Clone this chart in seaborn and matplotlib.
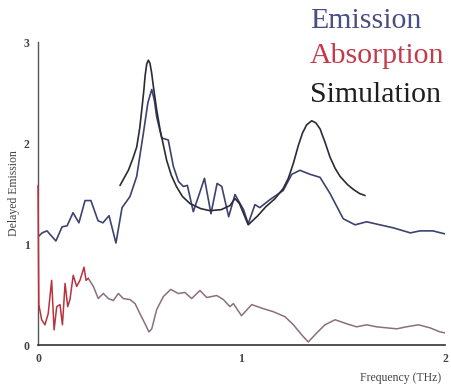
import numpy as np
import pandas as pd
import matplotlib
matplotlib.use("Agg")
import matplotlib.pyplot as plt
import seaborn as sns

# ─── DATA ─────────────────────────────────────────────────
em_x = [0.005, 0.02, 0.044, 0.088, 0.118, 0.143, 0.172, 0.201, 0.231, 0.260,
        0.295, 0.319, 0.349, 0.383, 0.413, 0.452, 0.485, 0.518, 0.540, 0.559,
        0.572, 0.583, 0.608, 0.640, 0.665, 0.690, 0.714, 0.734, 0.763, 0.790,
        0.818, 0.850, 0.880, 0.903, 0.937, 0.968, 0.993, 1.010, 1.033, 1.066,
        1.09, 1.14, 1.205, 1.247, 1.287, 1.337, 1.386, 1.435, 1.50, 1.558,
        1.615, 1.68, 1.746, 1.83, 1.877, 1.94, 2.0]
em_y = [1.08, 1.11, 1.13, 1.03, 1.17, 1.18, 1.31, 1.21, 1.43, 1.43,
        1.23, 1.21, 1.28, 1.01, 1.36, 1.47, 1.67, 2.10, 2.40, 2.53,
        2.42, 2.26, 2.05, 2.03, 1.77, 1.62, 1.57, 1.58, 1.32, 1.48,
        1.65, 1.30, 1.60, 1.57, 1.27, 1.49, 1.40, 1.34, 1.20, 1.39,
        1.36, 1.44, 1.53, 1.69, 1.73, 1.69, 1.66, 1.50, 1.25, 1.19,
        1.22, 1.19, 1.16, 1.11, 1.13, 1.13, 1.10]

sim_x = [0.403, 0.444, 0.465, 0.485, 0.50, 0.51, 0.52, 0.526, 0.534, 0.542,
         0.55, 0.558, 0.567, 0.583, 0.60, 0.616, 0.632, 0.655, 0.68, 0.71,
         0.747, 0.80, 0.845, 0.90, 0.943, 0.968, 0.99, 1.033, 1.08, 1.12,
         1.165, 1.205, 1.23, 1.255, 1.28, 1.30, 1.32, 1.345, 1.365, 1.386,
         1.41, 1.435, 1.46, 1.484, 1.52, 1.55, 1.58, 1.607]
sim_y = [1.58, 1.73, 1.84, 1.96, 2.15, 2.33, 2.52, 2.66, 2.78, 2.82,
         2.79, 2.70, 2.56, 2.33, 2.13, 1.98, 1.83, 1.68, 1.57, 1.47,
         1.40, 1.35, 1.33, 1.34, 1.38, 1.45, 1.40, 1.19, 1.28, 1.37,
         1.45, 1.55, 1.65, 1.80, 1.98, 2.10, 2.18, 2.22, 2.20, 2.14,
         2.01, 1.86, 1.75, 1.67, 1.59, 1.54, 1.50, 1.48]

ab_x = [0.0, 0.004, 0.018, 0.034, 0.05, 0.067, 0.079, 0.092, 0.108, 0.12,
        0.133, 0.146, 0.157, 0.173, 0.19, 0.206, 0.226, 0.236, 0.247, 0.272,
        0.296, 0.321, 0.346, 0.37, 0.395, 0.419, 0.452, 0.477, 0.501, 0.526,
        0.545, 0.559, 0.583, 0.616, 0.652, 0.69, 0.722, 0.755, 0.796, 0.829,
        0.878, 0.911, 0.943, 0.96, 1.0, 1.05, 1.107, 1.156, 1.214, 1.255,
        1.296, 1.328, 1.37, 1.41, 1.46, 1.517, 1.566, 1.615, 1.664, 1.713,
        1.763, 1.81, 1.87, 1.926, 1.975, 2.0]
ab_y = [1.58, 0.40, 0.25, 0.20, 0.31, 0.64, 0.15, 0.38, 0.40, 0.20,
        0.61, 0.38, 0.45, 0.69, 0.58, 0.64, 0.77, 0.64, 0.66, 0.58,
        0.46, 0.51, 0.46, 0.44, 0.51, 0.46, 0.45, 0.41, 0.31, 0.21,
        0.13, 0.16, 0.35, 0.48, 0.55, 0.51, 0.52, 0.46, 0.54, 0.47,
        0.49, 0.45, 0.38, 0.41, 0.29, 0.40, 0.36, 0.33, 0.28, 0.20,
        0.10, 0.03, 0.12, 0.20, 0.25, 0.21, 0.18, 0.20, 0.18, 0.17,
        0.16, 0.18, 0.20, 0.17, 0.13, 0.12]

legend_labels = ["Emission", "Absorption", "Simulation"]
x_ticks = [0, 1, 2]
y_ticks = [0, 1, 2, 3]

# ─── STYLE ────────────────────────────────────────────────
sns.set_style("white")
plt.rcParams['font.family'] = ['Liberation Serif', 'DejaVu Serif']

EM_COL = '#3e4270'
SIM_COL = '#2b2b36'
AB_RED = '#b8333f'
AB_MUTED = '#8a6f7e'

emission = pd.DataFrame({'x': em_x, 'y': em_y})
simulation = pd.DataFrame({'x': sim_x, 'y': sim_y})
absorption = pd.DataFrame({'x': ab_x, 'y': ab_y})
split = 19  # red part ends around 0.25 THz, then the trace fades
ab_red = absorption.iloc[:split]
ab_rest = absorption.iloc[split - 1:]

fig = plt.figure(figsize=(4.52, 3.89), dpi=100)
ax = fig.add_axes([0.0841, 0.1131, 0.9004, 0.7789])

sns.lineplot(data=ab_rest, x='x', y='y', color=AB_MUTED, lw=1.1, ax=ax, estimator=None, sort=False)
sns.lineplot(data=ab_red, x='x', y='y', color=AB_RED, lw=1.1, ax=ax, estimator=None, sort=False,
             zorder=4, clip_on=False)
sns.lineplot(data=emission, x='x', y='y', color=EM_COL, lw=1.2, ax=ax, estimator=None, sort=False)
sns.lineplot(data=simulation, x='x', y='y', color=SIM_COL, lw=1.2, ax=ax, estimator=None, sort=False)

ax.set_xlim(0, 2)
ax.set_ylim(0, 3)
ax.set_xticks(x_ticks)
ax.set_yticks(y_ticks)
ax.set_xticklabels([str(t) for t in x_ticks], fontsize=8.5, fontweight='bold', color='#333')
ax.set_yticklabels([str(t) for t in y_ticks], fontsize=8.5, fontweight='bold', color='#333')
ax.tick_params(axis='both', direction='out', length=3, width=0.8, pad=3, colors='#444')
ax.set_xlabel('')
ax.set_ylabel('')
sns.despine(ax=ax)
ax.spines['left'].set_color('#555')
ax.spines['bottom'].set_color('#333')
ax.spines['left'].set_linewidth(1.0)
ax.spines['bottom'].set_linewidth(1.2)

fig.text(14 / 452, 1 - 193 / 389, 'Delayed Emission', rotation=90, fontsize=8.5,
         color='#444', ha='center', va='center')
fig.text(441 / 452, 1 - 378 / 389, 'Frequency (THz)', fontsize=8.5,
         color='#444', ha='right', va='center')

for lab, col, ybase in zip(legend_labels, ['#4a4f82', '#c43a4b', '#1e1e1e'], [28, 63, 102]):
    fig.text(310 / 452, 1 - ybase / 389, lab, fontsize=21.5, color=col,
             ha='left', va='baseline')

fig.savefig('out.png', dpi=100)
